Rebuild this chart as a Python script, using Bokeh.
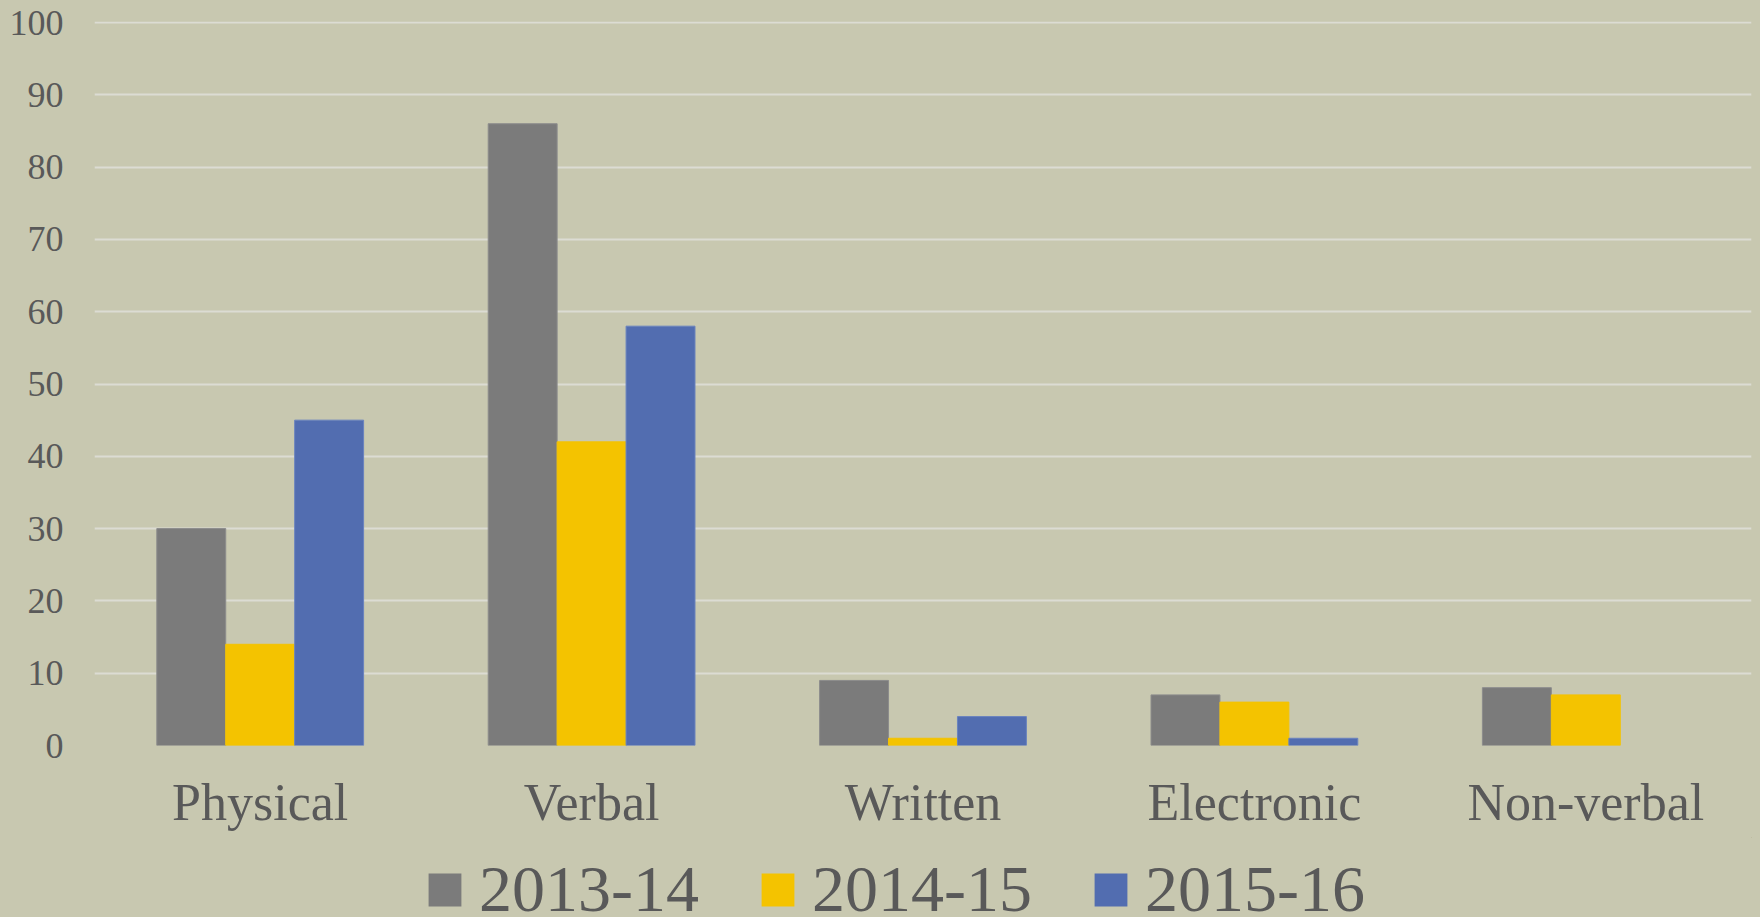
from bokeh.plotting import figure
from bokeh.layouts import column
from bokeh.models import ColumnDataSource, FactorRange, Range1d, Legend, LegendItem, FixedTicker
from bokeh.transform import dodge
from bokeh.embed import file_html
from bokeh.resources import INLINE

categories = ["Physical", "Verbal", "Written", "Electronic", "Non-verbal"]
series_names = ["2013-14", "2014-15", "2015-16"]
v2013 = [30, 86, 9, 7, 8]
v2014 = [14, 42, 1, 6, 7]
v2015 = [45, 58, 4, 1, 0]
y_ticks = [0, 10, 20, 30, 40, 50, 60, 70, 80, 90, 100]

colors = ["#7B7B7B", "#F4C300", "#526DB0"]
outlines = ["#8C8C8C", "#F4C300", "#6A83BE"]
BG = "#C8C8B0"
TXT = "#595959"
FONT = "Liberation Serif"

src = ColumnDataSource(dict(
    cat=categories, a=v2013, b=v2014, c=v2015,
    la=[1.0 if v > 0 else 0.0 for v in v2013],
    lb=[1.0 if v > 0 else 0.0 for v in v2014],
    lc=[1.0 if v > 0 else 0.0 for v in v2015],
))

LEG_H = 80
p = figure(x_range=FactorRange(*categories, range_padding=0), y_range=Range1d(0, 100.14),
           width=1760, height=917 - LEG_H, output_backend="svg", toolbar_location=None,
           min_border_left=94, min_border_right=9, min_border_top=21,
           min_border_bottom=917 - LEG_H - 745)
p.background_fill_color = BG
p.border_fill_color = BG
p.outline_line_color = None

bw = 0.208
for i, (key, lk, off) in enumerate(zip(["a", "b", "c"], ["la", "lb", "lc"], [-bw, 0.0, bw])):
    p.vbar(x=dodge("cat", off, range=p.x_range), top=key, width=bw, source=src,
           fill_color=colors[i], line_color=outlines[i], line_alpha=lk, line_width=1)

p.xgrid.grid_line_color = None
p.ygrid.grid_line_color = "#DCDCD3"
p.ygrid.grid_line_width = 2
p.ygrid.ticker = FixedTicker(ticks=y_ticks)

p.yaxis.ticker = FixedTicker(ticks=y_ticks)
for ax in (p.xaxis, p.yaxis):
    ax.axis_line_color = None
    ax.major_tick_line_color = None
    ax.minor_tick_line_color = None
    ax.major_label_text_color = TXT
    ax.major_label_text_font = FONT
p.yaxis.major_label_text_font_size = "36px"
p.yaxis.major_label_standoff = 25
p.xaxis.major_label_text_font_size = "52px"
p.xaxis.major_label_standoff = 22

# legend strip (its frame is aligned with the main frame, left edge at x=94)
lf = figure(width=1760, height=LEG_H, output_backend="svg", toolbar_location=None,
            x_range=Range1d(0, 1), y_range=Range1d(0, 1),
            min_border_left=0, min_border_right=0, min_border_top=0, min_border_bottom=0)
lf.background_fill_color = BG
lf.border_fill_color = BG
lf.outline_line_color = None
lf.axis.visible = False
lf.grid.visible = False
dummy = []
for c in colors:
    dummy.append(lf.vbar(x=[10], top=[10], bottom=[9], width=0.1, fill_color=c, line_color=None))

legend = Legend(items=[LegendItem(label=n, renderers=[r]) for n, r in zip(series_names, dummy)],
                orientation="horizontal", location=(330, -10),
                padding=0, margin=0, spacing=58, label_standoff=14,
                glyph_width=41, glyph_height=41, label_height=41,
                label_text_font=FONT, label_text_font_size="66px", label_text_color=TXT,
                border_line_alpha=0, background_fill_alpha=0)
lf.add_layout(legend, "center")

layout = column(p, lf, spacing=0, styles={"background-color": BG})
open("out.html", "w").write(file_html(layout, INLINE))
